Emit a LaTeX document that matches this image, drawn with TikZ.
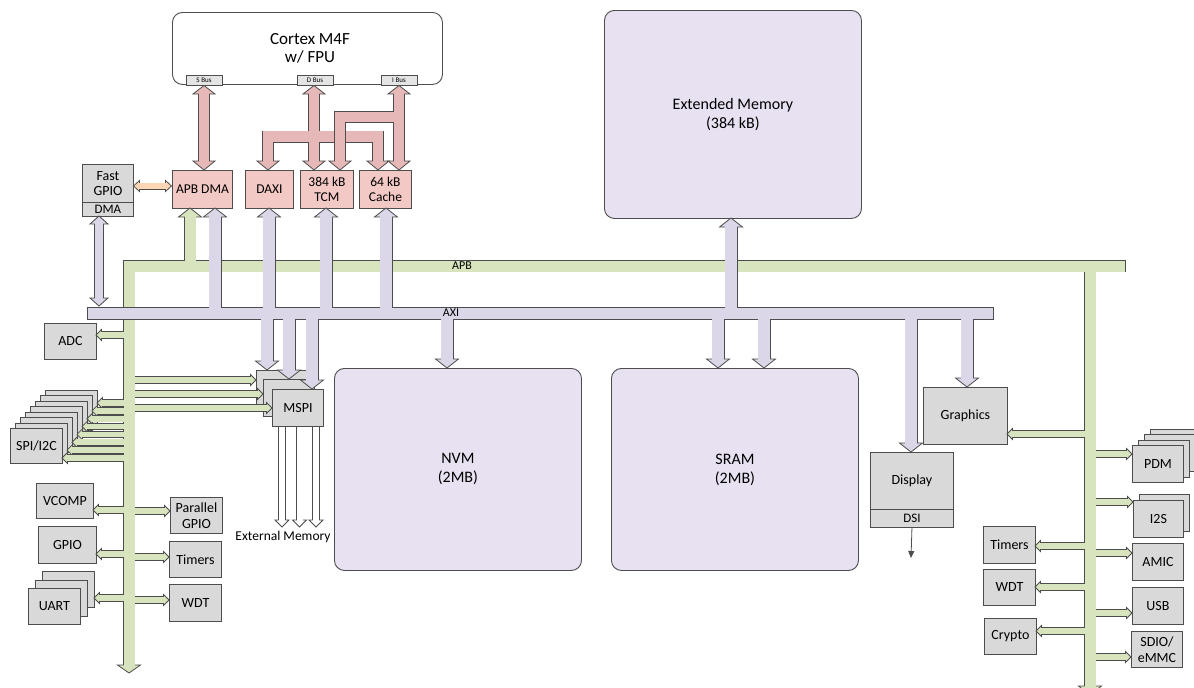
\documentclass[tikz,border=0pt]{standalone}
\usepackage{fontspec}
\setmainfont{Carlito}
\usetikzlibrary{arrows.meta}
\definecolor{edge}{HTML}{4D4D4D}
\definecolor{grayf}{HTML}{D9D9D9}
\definecolor{greenf}{HTML}{D7E4BD}
\definecolor{purf}{HTML}{DCD7E8}
\definecolor{memf}{HTML}{E8E1F1}
\definecolor{pinkbox}{HTML}{F2C9C5}
\definecolor{pinkf}{HTML}{E6B9B8}
\definecolor{orangef}{HTML}{FCD5B4}
\definecolor{busl}{HTML}{E4E4E4}
\newcommand\lblfont{\fontsize{14}{15.5}\selectfont}
\newcommand\pinkfont{\fontsize{13.5}{15.5}\selectfont}
\newcommand\bigfont{\fontsize{16}{19}\selectfont}
% heads: #1 fill, #2 x tip, #3 y tip, #4 half width, #5 length
\newcommand\HD[5]{\filldraw[draw=edge,line width=0.8pt,fill=#1] (#2,#3) -- ({#2-#4},{#3-#5}) -- ({#2+#4},{#3-#5}) -- cycle;}
\newcommand\HU[5]{\filldraw[draw=edge,line width=0.8pt,fill=#1] (#2,#3) -- ({#2-#4},{#3+#5}) -- ({#2+#4},{#3+#5}) -- cycle;}
\newcommand\HL[5]{\filldraw[draw=edge,line width=0.8pt,fill=#1] (#2,#3) -- ({#2+#5},{#3-#4}) -- ({#2+#5},{#3+#4}) -- cycle;}
\newcommand\HR[5]{\filldraw[draw=edge,line width=0.8pt,fill=#1] (#2,#3) -- ({#2-#5},{#3-#4}) -- ({#2-#5},{#3+#4}) -- cycle;}
% box: #1 style, #2 name, #3 x1, #4 y1, #5 x2, #6 y2, #7 text
\newcommand\bx[7]{\node[#1, minimum width={#5-#3}, minimum height={#6-#4}] (#2) at (#3,#4) {#7};}
\begin{document}
\begin{tikzpicture}[x=1pt,y=-1pt,
  gbox/.style={draw=edge, fill=grayf, line width=0.9pt, inner sep=0pt, anchor=north west, align=center, font=\lblfont},
  pbox/.style={draw=edge, fill=pinkbox, line width=0.9pt, inner sep=0pt, anchor=north west, align=center, font=\pinkfont},
  mbox/.style={draw=edge, fill=memf, line width=0.9pt, rounded corners=10pt, inner sep=0pt, anchor=north west, align=center, font=\bigfont},
  cbox/.style={draw=edge, fill=white, line width=0.9pt, rounded corners=10pt, inner sep=0pt, anchor=north west, align=center, font=\bigfont},
  blbl/.style={draw=edge, fill=busl, line width=0.6pt, inner sep=0pt, minimum width=36pt, minimum height=10pt, font=\fontsize{7}{7}\selectfont},
  gO/.style={draw=edge, line width=12.6pt},
  gF/.style={draw=greenf, line width=11pt},
  sO/.style={draw=edge, line width=7.4pt},
  sF/.style={draw=greenf, line width=5.8pt},
  pO/.style={draw=edge, line width=13pt},
  pF/.style={draw=purf, line width=11.4pt},
  kO/.style={draw=edge, line width=12pt},
  kF/.style={draw=pinkf, line width=10.4pt},
  buslbl/.style={font=\fontsize{12}{12}\selectfont},
]
\useasboundingbox (0,0) rectangle (1194,688);
\fill[white] (0,0) rectangle (1194,688);

% ---------- boxes ----------
\bx{cbox}{cortex}{172}{12}{442}{84}{}
\node[font=\fontsize{17}{18}\selectfont, align=center] (cortexlbl) at (310,48) {Cortex M4F\\w/ FPU};
\node[blbl] (sbus) at (204,80) {S Bus};
\node[blbl] (dbus) at (315,80) {D Bus};
\node[blbl] (ibus) at (399,80) {I Bus};

\bx{mbox}{extmem}{604}{10}{861}{218}{Extended Memory\\(384 kB)}
\bx{mbox}{nvm}{334}{368}{581}{570}{NVM\\(2MB)}
\bx{mbox}{sram}{611}{368}{858}{570}{SRAM\\(2MB)}

\bx{pbox}{apbdma}{172}{170}{232}{208}{APB DMA}
\bx{pbox}{daxi}{245}{170}{293}{208}{DAXI}
\bx{pbox}{tcm}{300}{170}{353}{208}{384 kB\\TCM}
\bx{pbox}{cache}{359}{170}{411}{208}{64 kB\\Cache}

\bx{gbox}{fgpio}{82}{164}{133}{202}{Fast\\GPIO}
\bx{gbox}{fdma}{82}{202}{133}{216}{\fontsize{13}{13}\selectfont DMA}

\bx{gbox}{adc}{44}{323}{96}{359}{ADC}
% SPI/I2C stack
\foreach \k in {7,6,...,1} {
  \node[gbox, minimum width=52pt, minimum height=35pt] at ({10+5*\k},{428-5.43*\k}) {};
}
\bx{gbox}{spi}{10}{428}{62}{463}{SPI/I2C}
\bx{gbox}{vcomp}{36}{483}{93}{518}{VCOMP}
\bx{gbox}{gpio}{38}{526}{96}{563}{GPIO}
\foreach \k in {2,1} {
  \node[gbox, minimum width=52pt, minimum height=36pt] at ({28+7*\k},{588-8.5*\k}) {};
}
\bx{gbox}{uart}{28}{588}{80}{624}{UART}
\bx{gbox}{pgpio}{170}{497}{222}{533}{Parallel\\GPIO}
\bx{gbox}{timersl}{169}{541}{221}{577}{Timers}
\bx{gbox}{wdtl}{169}{584}{221}{621}{WDT}

\node[gbox, minimum width=51pt, minimum height=37pt] (mspi3) at (256,370) {};
\node[gbox, minimum width=51pt, minimum height=37pt] (mspi2) at (263,379) {};
\bx{gbox}{mspi}{272}{389}{323}{426}{MSPI}

\bx{gbox}{graphics}{923}{387}{1007}{444}{Graphics}
\bx{gbox}{display}{870}{452}{953}{509}{Display}
\bx{gbox}{dsi}{870}{509}{953}{527}{\fontsize{13}{13}\selectfont DSI}

\foreach \k in {3,2,1} {
  \node[gbox, minimum width=51pt, minimum height=37pt] at ({1132+6*\k},{445-5.5*\k}) {};
}
\bx{gbox}{pdm}{1132}{445}{1183}{482}{PDM}
\node[gbox, minimum width=50pt, minimum height=37pt] at (1139,494) {};
\bx{gbox}{i2s}{1133}{500}{1183}{537}{I2S}
\bx{gbox}{amic}{1132}{543}{1183}{580}{AMIC}
\bx{gbox}{usb}{1132}{587}{1183}{624}{USB}
\bx{gbox}{sdio}{1131}{631}{1182}{667}{SDIO/\\eMMC}
\bx{gbox}{timersr}{983}{526}{1035}{563}{Timers}
\bx{gbox}{wdtr}{983}{569}{1035}{605}{WDT}
\bx{gbox}{crypto}{984}{618}{1036}{654}{Crypto}

% ---------- green APB layer ----------
% outlines
\draw[gO] (129,665) -- (129,266) -- (1125.8,266);
\draw[gO] (1090,266) -- (1090,686);
\draw[gO] (190,266) -- (190,217);
\foreach \tx/\ty in {96/335, 93/510, 96/554, 94/598} {\draw[sO] (129,\ty) -- ({\tx+5.5},\ty);}
\foreach \tx/\ty in {256/380, 263/394, 272/408, 170/511, 169/557, 169/600} {\draw[sO] (129,\ty) -- ({\tx-5.5},\ty);}
\foreach \k in {0,...,7} {\draw[sO] (129,{458-7.86*\k}) -- ({62+5*\k+5.5},{458-7.86*\k});}
\foreach \tx/\ty in {1007/434, 1035/546, 1035/587, 1036/631} {\draw[sO] (1090,\ty) -- ({\tx+5.5},\ty);}
\foreach \tx/\ty in {1132/454, 1133/502, 1132/553, 1132/613, 1131/657} {\draw[sO] (1090,\ty) -- ({\tx-5.5},\ty);}
% heads
\HD{greenf}{129}{673}{11.5}{8}
\HD{greenf}{1090}{695}{11.5}{9}
\HU{greenf}{190}{208}{11.5}{9}
\foreach \tx/\ty in {96/335, 93/510, 96/554, 94/598, 1007/434, 1035/546, 1035/587, 1036/631} {\HL{greenf}{\tx}{\ty}{5.5}{5.5}}
\foreach \tx/\ty in {256/380, 263/394, 272/408, 170/511, 169/557, 169/600, 1132/454, 1133/502, 1132/553, 1132/613, 1131/657} {\HR{greenf}{\tx}{\ty}{5.5}{5.5}}
\foreach \k in {0,...,7} {\HL{greenf}{62+5*\k}{458-7.86*\k}{5.5}{5.5}}
% fills
\foreach \tx/\ty in {96/335, 93/510, 96/554, 94/598} {\draw[sF] (129,\ty) -- ({\tx+4.6},\ty);}
\foreach \tx/\ty in {256/380, 263/394, 272/408, 170/511, 169/557, 169/600} {\draw[sF] (129,\ty) -- ({\tx-4.6},\ty);}
\foreach \k in {0,...,7} {\draw[sF] (129,{458-7.86*\k}) -- ({62+5*\k+4.6},{458-7.86*\k});}
\foreach \tx/\ty in {1007/434, 1035/546, 1035/587, 1036/631} {\draw[sF] (1090,\ty) -- ({\tx+4.6},\ty);}
\foreach \tx/\ty in {1132/454, 1133/502, 1132/553, 1132/613, 1131/657} {\draw[sF] (1090,\ty) -- ({\tx-4.6},\ty);}
\draw[gF] (129,665.8) -- (129,266) -- (1125,266);
\draw[gF] (1090,266) -- (1090,686.8);
\draw[gF] (190,266) -- (190,216.2);
\node[buslbl] (apblbl) at (462,266) {APB};

% ---------- purple AXI layer ----------
\draw[pO] (87.2,313.5) -- (993.8,313.5);
\foreach \x/\t in {215/208, 269/208, 326/208, 386/208, 731/218} {\draw[pO] (\x,313.5) -- (\x,{\t+9});}
\foreach \x/\t in {267/370, 289/379, 312/389, 447/368, 718/368, 764/368, 911/452, 967/387} {\draw[pO] (\x,313.5) -- (\x,{\t-9});}
\draw[draw=edge, line width=9.8pt] (99,224) -- (99,298);
\foreach \x/\t in {215/208, 269/208, 326/208, 386/208, 731/218} {\HU{purf}{\x}{\t}{11.5}{9}}
\foreach \x/\t in {267/370, 289/379, 312/389, 447/368, 718/368, 764/368, 911/452, 967/387} {\HD{purf}{\x}{\t}{11.5}{9}}
\HU{purf}{99}{216}{9}{8}
\HD{purf}{99}{306}{9}{8}
\draw[draw=purf, line width=8.2pt] (99,223.2) -- (99,298.8);
\foreach \x/\t in {215/208, 269/208, 326/208, 386/208, 731/218} {\draw[pF] (\x,313.5) -- (\x,{\t+8.2});}
\foreach \x/\t in {267/370, 289/379, 312/389, 447/368, 718/368, 764/368, 911/452, 967/387} {\draw[pF] (\x,313.5) -- (\x,{\t-8.2});}
\draw[pF] (88,313.5) -- (993,313.5);
\node[buslbl] (axilbl) at (451,313) {AXI};

% ---------- pink core buses ----------
% S bus
\draw[kO] (204,94) -- (204,161);
\HU{pinkf}{204}{85.5}{11}{8.5}
\HD{pinkf}{204}{170}{11}{9}
\draw[kF] (204,93.2) -- (204,161.8);
% D bus
\draw[kO] (314,94) -- (314,161);
\draw[kO] (268,161) -- (268,136.5) -- (378,136.5) -- (378,161);
\HU{pinkf}{314}{85.5}{11}{8.5}
\foreach \x in {314,268,378} {\HD{pinkf}{\x}{170}{11}{9}}
\draw[kF] (314,93.2) -- (314,161.8);
\draw[kF] (268,161.8) -- (268,136.5) -- (378,136.5) -- (378,161.8);
% I bus
\draw[kO] (399,94) -- (399,161);
\draw[kO] (399,117) -- (340,117) -- (340,161);
\HU{pinkf}{399}{85.5}{11}{8.5}
\foreach \x in {399,340} {\HD{pinkf}{\x}{170}{11}{9}}
\draw[kF] (399,93.2) -- (399,161.8);
\draw[kF] (399,117) -- (340,117) -- (340,161.8);

% ---------- orange Fast GPIO <-> APB DMA ----------
\draw[draw=edge, line width=7pt] (139,186) -- (166,186);
\HL{orangef}{133.5}{186}{5.5}{6}
\HR{orangef}{171.5}{186}{5.5}{6}
\draw[draw=orangef, line width=5.4pt] (138.4,186) -- (166.6,186);

% ---------- MSPI external memory arrows ----------
\foreach \x in {282,299.5,316} {\draw[draw=edge, line width=7.6pt] (\x,426) -- (\x,520);}
\foreach \x in {282,299.5,316} {\HD{white}{\x}{527}{7}{7}}
\foreach \x in {282,299.5,316} {\draw[draw=white, line width=6pt] (\x,427) -- (\x,520.8);}
\node[font=\fontsize{13.5}{14}\selectfont] (extlbl) at (283,537) {External Memory};

% ---------- DSI output ----------
\coordinate (dsiout) at (911,558);
\draw[draw=edge, line width=0.8pt, -{Triangle[length=7pt,width=6pt]}] (dsi.south) -- (dsiout);
\end{tikzpicture}
\end{document}
